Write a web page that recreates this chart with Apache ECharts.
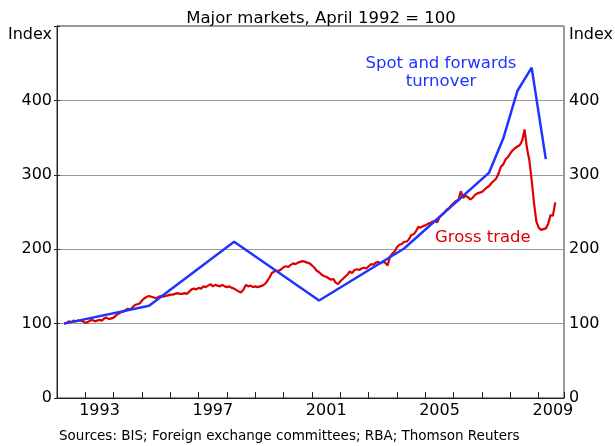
<!DOCTYPE html>
<html>
<head>
<meta charset="utf-8">
<script src="https://cdn.jsdelivr.net/npm/echarts@6/dist/echarts.min.js"></script>
<style>
html,body{margin:0;padding:0;background:#fff;}
#chart{width:615px;height:446px;}
</style>
</head>
<body>
<div id="chart"></div>
<script>
// ---- Data ----
// Gross trade index, monthly from April 1992 to August 2009
const grossStart = [1992, 4];
const grossTrade = [
  100,101,103,102,104,103,104,104,103,                       // 1992 Apr-Dec
  101,102,104,105,103,104,105,104,107,108,106,107,           // 1993
  108,111,113,115,116,118,120,119,122,125,126,127,           // 1994
  131,134,136,137,136,135,134,136,137,136,137,138,           // 1995
  139,139,140,141,140,140,141,140,143,146,147,146,           // 1996
  148,147,150,149,151,153,150,152,151,150,152,150,           // 1997
  149,150,148,147,145,143,142,146,152,150,151,149,           // 1998
  150,149,150,151,153,157,162,168,170,171,171,173,           // 1999
  176,177,176,179,181,180,182,183,184,183,182,181,           // 2000
  178,175,171,169,166,164,163,161,159,160,155,153,           // 2001
  157,160,163,166,170,168,172,173,172,174,175,174,           // 2002
  177,180,179,182,183,181,183,182,178,190,194,197,           // 2003
  203,206,207,210,210,213,219,220,224,230,229,231,           // 2004
  232,234,235,237,238,236,243,246,249,253,255,259,           // 2005
  262,265,266,278,269,272,270,267,269,273,275,276,           // 2006
  277,280,283,285,289,292,295,302,311,314,321,324,           // 2007
  329,333,336,338,340,346,361,336,320,293,262,237,           // 2008
  229,226,227,228,234,246,245,263                            // 2009 Jan-Aug
];
// Spot and forwards turnover (BIS surveys and FX committee surveys)
const turnoverDates = ['1992-04','1995-04','1998-04','2001-04','2004-04','2007-04','2007-10','2008-04','2008-10','2009-04'];
const turnoverValues = [100,124,210,131,201,303,349,413,444,321];
// Axis settings
const yearLabels = [1993, 1997, 2001, 2005, 2009];
const yMin = 0, yMax = 500, yStep = 100;
const baseYear = 1992;
const xMaxMonths = 214.7;

// ---- helpers ----
function monthIndex(y, m) { return (y - baseYear) * 12 + (m - 1); }
const grossData = grossTrade.map((v, i) => [monthIndex(grossStart[0], grossStart[1]) + i, v]);
const turnoverData = turnoverDates.map((d, i) => {
  const [y, m] = d.split('-').map(Number);
  return [monthIndex(y, m), turnoverValues[i]];
});
// label positions: middle of each labelled year
const labelPositions = yearLabels.map(y => monthIndex(y, 1) + 6);

const FONT = 'DejaVu Sans';
const chart = echarts.init(document.getElementById('chart'), null, {renderer: 'canvas'});

const yAxisCommon = {
  type: 'value', min: yMin, max: yMax, interval: yStep,
  axisLine: {show: true, lineStyle: {color: '#222', width: 1}},
  axisTick: {show: true, inside: true, length: 3, lineStyle: {color: '#222'}},
  splitLine: {show: false},
  axisLabel: {
    fontFamily: FONT, fontSize: 16, color: '#000', margin: 5,
    formatter: v => (v === yMax ? '' : String(v))
  }
};

const option = {
  animation: false,
  backgroundColor: '#fff',
  title: {
    text: 'Major markets, April 1992 = 100',
    left: 316, top: 5, textAlign: 'center',
    textStyle: {fontFamily: FONT, fontSize: 16.5, fontWeight: 'normal', color: '#000'}
  },
  grid: {left: 57, right: 51, top: 26, bottom: 48, show: true, borderColor: '#333', borderWidth: 1, containLabel: false},
  xAxis: [
    {
      type: 'value', min: 0, max: xMaxMonths, interval: 12, position: 'bottom',
      axisLine: {show: true, onZero: false, lineStyle: {color: '#222', width: 1}},
      axisTick: {show: true, inside: true, length: 6, lineStyle: {color: '#222'}},
      axisLabel: {show: false},
      splitLine: {show: false}
    },
    {
      type: 'value', min: 0, max: xMaxMonths, interval: 6, position: 'bottom', offset: 0,
      axisLine: {show: false},
      axisTick: {show: false},
      splitLine: {show: false},
      axisLabel: {
        fontFamily: FONT, fontSize: 16, color: '#000', margin: 5,
        showMinLabel: false, showMaxLabel: false,
        formatter: v => {
          const idx = labelPositions.indexOf(v);
          return idx >= 0 ? String(yearLabels[idx]) : '';
        }
      }
    }
  ],
  yAxis: [
    Object.assign({}, yAxisCommon, {
      position: 'left',
      splitLine: {show: true, lineStyle: {color: '#999', width: 1}}
    }),
    Object.assign({}, yAxisCommon, {
      position: 'right'
    })
  ],
  series: [
    {
      name: 'Gross trade', type: 'line', xAxisIndex: 0, yAxisIndex: 0,
      data: grossData, showSymbol: false, symbol: 'none',
      lineStyle: {color: '#dd0000', width: 2.2}, z: 3
    },
    {
      name: 'Spot and forwards turnover', type: 'line', xAxisIndex: 0, yAxisIndex: 0,
      data: turnoverData, showSymbol: false, symbol: 'none',
      lineStyle: {color: '#1f35ff', width: 2.5}, z: 4
    }
  ],
  graphic: [
    {type: 'text', x: 52, y: 27, style: {text: 'Index', font: '16px "DejaVu Sans"', fill: '#000', textAlign: 'right'}},
    {type: 'text', x: 569, y: 27, style: {text: 'Index', font: '16px "DejaVu Sans"', fill: '#000', textAlign: 'left'}},
    {type: 'text', x: 441, y: 55, style: {text: 'Spot and forwards', font: '16.5px "DejaVu Sans"', fill: '#1f35ff', textAlign: 'center'}},
    {type: 'text', x: 441, y: 73, style: {text: 'turnover', font: '16.5px "DejaVu Sans"', fill: '#1f35ff', textAlign: 'center'}},
    {type: 'text', x: 435, y: 229, style: {text: 'Gross trade', font: '16.5px "DejaVu Sans"', fill: '#dd0000', textAlign: 'left'}},
    {type: 'text', x: 59, y: 429, style: {text: 'Sources: BIS; Foreign exchange committees; RBA; Thomson Reuters', font: '13.5px "DejaVu Sans"', fill: '#000', textAlign: 'left'}}
  ]
};
chart.setOption(option);
</script>
</body>
</html>
